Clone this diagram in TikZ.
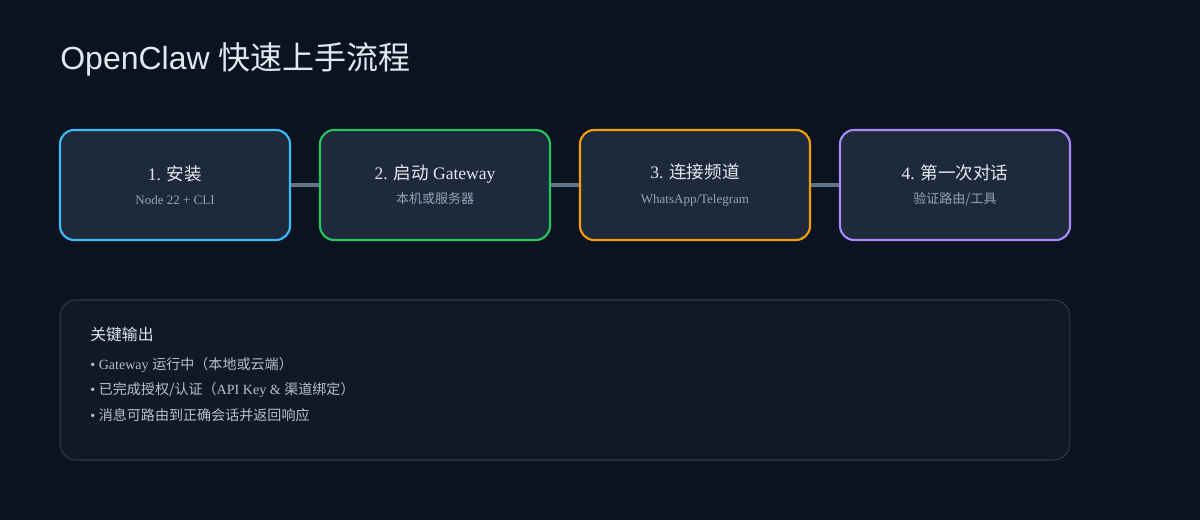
\documentclass[tikz,border=0pt]{standalone}
\usepackage{fontspec}
\setmainfont{Liberation Serif}
\setsansfont{Liberation Sans}
\newfontfamily\cjk{Noto Sans CJK SC}
\usepackage{tikz}
\definecolor{bgcol}{HTML}{0B1220}
\definecolor{boxcol}{HTML}{1E293B}
\definecolor{panelcol}{HTML}{111827}
\definecolor{panelline}{HTML}{2D3A4C}
\definecolor{linkcol}{HTML}{64748B}
\definecolor{titlecol}{HTML}{E2E8F0}
\definecolor{subcol}{HTML}{94A3B8}
\definecolor{itemcol}{HTML}{B6C0CE}
\definecolor{installcol}{HTML}{38BDF8}
\definecolor{gatecol}{HTML}{22C55E}
\definecolor{chancol}{HTML}{F59E0B}
\definecolor{chatcol}{HTML}{A78BFA}
\newcommand{\substepfont}{\fontsize{7.4}{9}\selectfont\color{subcol}}
\tikzset{
  stepbox/.style={draw, line width=1.2pt, fill=boxcol, rounded corners=0.28cm,
    minimum width=4.6cm, minimum height=2.2cm, align=center, text=titlecol,
    font=\fontsize{10}{12}\selectfont, inner sep=0pt},
  link/.style={linkcol, line width=2.3pt},
  item/.style={anchor=west, text=itemcol, font=\fontsize{8}{10}\selectfont, inner sep=0pt},
}

\begin{document}
\begin{tikzpicture}[x=0.02cm, y=-0.02cm]
  \fill[bgcol] (0,0) rectangle (1200,520);
  \useasboundingbox (0,0) rectangle (1200,520);

  \node[anchor=west, text=titlecol, inner sep=0pt, font=\sffamily\fontsize{18.2}{22}\selectfont]
    (title) at (60,59) {OpenClaw {\cjk 快速上手流程}};

  % steps
  \node[stepbox, draw=installcol] (install) at (175,185)
    {1. {\cjk 安装}\\[1.8pt] {\substepfont Node 22 + CLI}};
  \node[stepbox, draw=gatecol] (gateway) at (435,185)
    {2. {\cjk 启动} Gateway\\[1.8pt] {\substepfont\cjk 本机或服务器}};
  \node[stepbox, draw=chancol] (channel) at (695,185)
    {3. {\cjk 连接频道}\\[1.8pt] {\substepfont WhatsApp/Telegram}};
  \node[stepbox, draw=chatcol] (chat) at (955,185)
    {4. {\cjk 第一次对话}\\[1.8pt] {\substepfont\cjk 验证路由/工具}};

  \draw[link] (install) -- (gateway);
  \draw[link] (gateway) -- (channel);
  \draw[link] (channel) -- (chat);

  % key output
  \node[draw=panelline, line width=0.6pt, fill=panelcol, rounded corners=0.32cm,
    minimum width=20.2cm, minimum height=3.2cm] (panel) at (565,380) {};
  \node[anchor=west, text=titlecol, inner sep=0pt, font=\cjk\fontsize{9}{11}\selectfont]
    (head) at (90,335) {关键输出};
  \node[item] (out1) at (90,365) {• Gateway {\cjk 运行中（本地或云端）}};
  \node[item] (out2) at (90,390) {• {\cjk 已完成授权/认证（}API Key \& {\cjk 渠道绑定）}};
  \node[item] (out3) at (90,415) {• {\cjk 消息可路由到正确会话并返回响应}};
\end{tikzpicture}
\end{document}
